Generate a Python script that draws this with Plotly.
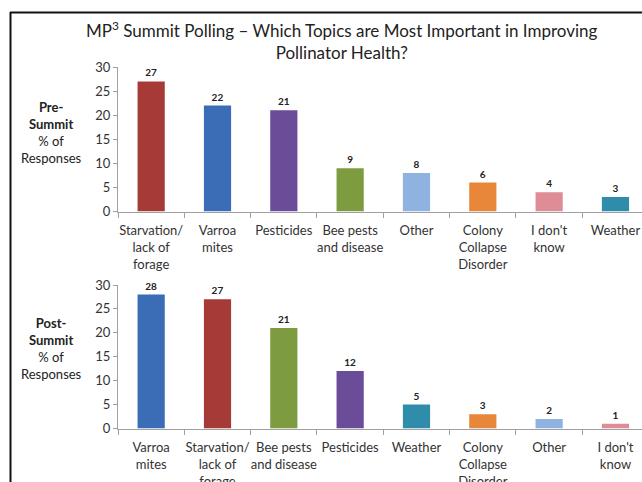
import plotly.graph_objects as go

pre_categories = ["Starvation/<br>lack of<br>forage", "Varroa<br>mites", "Pesticides", "Bee pests<br>and disease",
                  "Other", "Colony<br>Collapse<br>Disorder", "I don't<br>know", "Weather"]
pre_values = [27, 22, 21, 9, 8, 6, 4, 3]

post_categories = ["Varroa<br>mites", "Starvation/<br>lack of<br>forage", "Bee pests<br>and disease", "Pesticides",
                   "Weather", "Colony<br>Collapse<br>Disorder", "Other", "I don't<br>know"]
post_values = [28, 27, 21, 12, 5, 3, 2, 1]

y_ticks = [0, 5, 10, 15, 20, 25, 30]

color_map = {
    "Starvation": "#A53A37",
    "Varroa": "#3B6DB6",
    "Pesticides": "#6A4C99",
    "Bee pests": "#7D9C3F",
    "Other": "#8FB3E0",
    "Colony": "#E8873A",
    "I don't": "#DE8C95",
    "Weather": "#2F8CAA",
}

def colors_for(cats):
    out = []
    for c in cats:
        for k, v in color_map.items():
            if c.startswith(k):
                out.append(v)
                break
    return out

FONT = "Lato"
W, H = 642, 482

fig = go.Figure()
fig.add_trace(go.Bar(x=pre_categories, y=pre_values, marker_color=colors_for(pre_categories),
                     marker_line_width=0, text=pre_values, textposition="outside",
                     textfont=dict(size=10, color="#222", family=FONT, weight="bold"),
                     cliponaxis=False, xaxis="x", yaxis="y", showlegend=False))
fig.add_trace(go.Bar(x=post_categories, y=post_values, marker_color=colors_for(post_categories),
                     marker_line_width=0, text=post_values, textposition="outside",
                     textfont=dict(size=10, color="#222", family=FONT, weight="bold"),
                     cliponaxis=False, xaxis="x2", yaxis="y2", showlegend=False))

x_left = 118 / W
xcommon = dict(domain=[x_left, 1], range=[-0.5, 7.4], showline=True, linecolor="#A0A0A0", linewidth=1,
               ticks="outside", tickson="boundaries", ticklen=5, tickcolor="#A0A0A0", tickangle=0,
               automargin=False, ticklabelstandoff=7,
               tickfont=dict(size=13, color="#333", family=FONT), showgrid=False, fixedrange=True)
ycommon = dict(range=[0, 30], tickvals=y_ticks, showline=True, linecolor="#A0A0A0", linewidth=1,
               ticks="outside", ticklen=4, tickcolor="#A0A0A0", showgrid=False, zeroline=False,
               automargin=False,
               tickfont=dict(size=13, color="#333", family=FONT), fixedrange=True)

fig.update_layout(
    width=W, height=H, margin=dict(l=0, r=0, t=0, b=0, autoexpand=False),
    paper_bgcolor="white", plot_bgcolor="white", bargap=0.59,
    font=dict(family=FONT, color="#222"),
    xaxis=dict(xcommon, anchor="y"),
    yaxis=dict(ycommon, domain=[1 - 211.5 / H, 1 - 67 / H], anchor="x"),
    xaxis2=dict(xcommon, anchor="y2"),
    yaxis2=dict(ycommon, domain=[1 - 428.5 / H, 1 - 285 / H], anchor="x2"),
)

fig.add_annotation(text="MP<sup>3</sup> Summit Polling – Which Topics are Most Important in Improving<br>Pollinator Health?",
                   x=342 / W, y=1 - 40 / H, xref="paper", yref="paper", showarrow=False,
                   font=dict(size=17, color="#222", family=FONT), xanchor="center", yanchor="middle")
fig.add_annotation(text="<b>Pre-<br>Summit</b><br>% of<br>Responses",
                   x=51 / W, y=1 - 132 / H, xref="paper", yref="paper", showarrow=False,
                   font=dict(size=13, color="#222", family=FONT), xanchor="center", yanchor="middle")
fig.add_annotation(text="<b>Post-<br>Summit</b><br>% of<br>Responses",
                   x=51 / W, y=1 - 348.5 / H, xref="paper", yref="paper", showarrow=False,
                   font=dict(size=13, color="#222", family=FONT), xanchor="center", yanchor="middle")

# slide frame
fig.add_shape(type="line", xref="paper", yref="paper", x0=10.5 / W, x1=10.5 / W, y0=0, y1=1 - 12 / H,
              line=dict(color="#111", width=2))
fig.add_shape(type="line", xref="paper", yref="paper", x0=10 / W, x1=1, y0=1 - 12.5 / H, y1=1 - 12.5 / H,
              line=dict(color="#111", width=2))

fig.write_html("out.html")
